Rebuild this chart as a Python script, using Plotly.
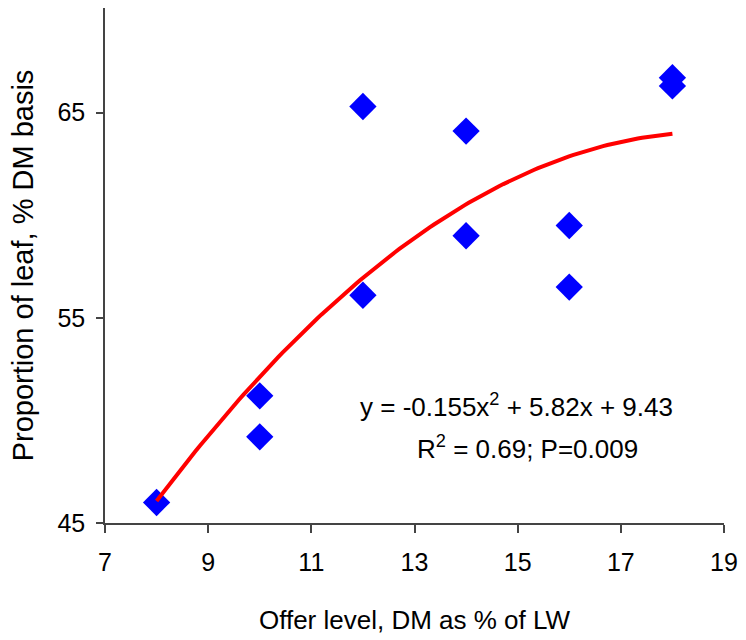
import numpy as np
import plotly.graph_objects as go

# Observed proportion of leaf at each offer level
offer_level = [8, 10, 10, 12, 12, 14, 14, 16, 16, 18, 18]
leaf_pct = [46.0, 51.2, 49.2, 65.3, 56.1, 64.1, 59.0, 59.5, 56.5, 66.7, 66.3]

# Quadratic fit coefficients: y = a*x^2 + b*x + c
fit_a, fit_b, fit_c = -0.155, 5.82, 9.43
fit_r2 = 0.69
fit_p = 0.009

x_ticks = [7, 9, 11, 13, 15, 17, 19]
y_ticks = [45, 55, 65]

x_fit = np.linspace(min(offer_level), max(offer_level), 120)
y_fit = fit_a * x_fit**2 + fit_b * x_fit + fit_c

font_family = "Liberation Sans, Arial, sans-serif"

W, H = 746, 640
L, R, T, B = 105, 17, 8, 117
pw, ph = W - L - R, H - T - B


def px_to_paper(px, py):
    return (px - L) / pw, 1 - (py - T) / ph


fig = go.Figure()
fig.add_trace(go.Scatter(
    x=offer_level, y=leaf_pct, mode="markers",
    marker=dict(symbol="diamond", size=21, color="#0000FF", line=dict(width=0)),
    showlegend=False,
))
fig.add_trace(go.Scatter(
    x=x_fit, y=y_fit, mode="lines",
    line=dict(color="#FF0000", width=4),
    showlegend=False,
))

eq_x, eq_y = px_to_paper(520, 405)
r2_x, r2_y = px_to_paper(531, 447)
fig.add_annotation(
    x=eq_x, y=eq_y, xref="paper", yref="paper", xanchor="center", yanchor="middle",
    text=f"y = {fit_a}x<sup>2</sup> + {fit_b}x + {fit_c}",
    showarrow=False, font=dict(size=26, color="black", family=font_family),
)
fig.add_annotation(
    x=r2_x, y=r2_y, xref="paper", yref="paper", xanchor="center", yanchor="middle",
    text=f"R<sup>2</sup> = {fit_r2}; P={fit_p}",
    showarrow=False, font=dict(size=26, color="black", family=font_family),
)

fig.update_layout(
    width=W, height=H,
    margin=dict(l=L, r=R, t=T, b=B),
    paper_bgcolor="white", plot_bgcolor="white",
    font=dict(family=font_family, size=25, color="black"),
    xaxis=dict(
        range=[7, 19], tickvals=x_ticks, showgrid=False, zeroline=False,
        showline=True, linecolor="#444444", linewidth=1.5,
        ticks="outside", ticklen=8, tickcolor="#444444", tickwidth=1.5,
        ticklabelstandoff=8,
        title=dict(text="Offer level, DM as % of LW", standoff=36,
                   font=dict(size=26, family=font_family)),
        tickfont=dict(size=25, family=font_family),
    ),
    yaxis=dict(
        range=[45, 70.1], tickvals=y_ticks, showgrid=False, zeroline=False,
        showline=True, linecolor="#444444", linewidth=1.5,
        ticks="outside", ticklen=7, tickcolor="#444444", tickwidth=1.5,
        ticklabelstandoff=6,
        title=dict(text="Proportion of leaf, % DM basis", standoff=15,
                   font=dict(size=29, family=font_family)),
        tickfont=dict(size=25, family=font_family),
    ),
)

fig.write_html("out.html")
